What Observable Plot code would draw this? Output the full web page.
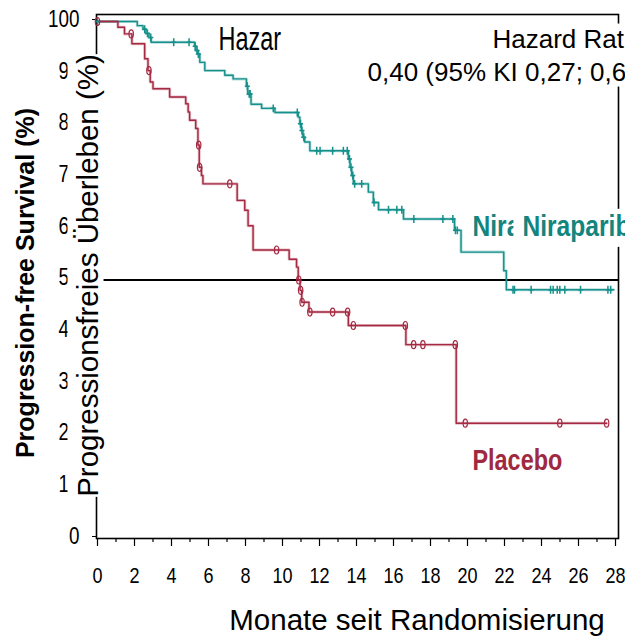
<!DOCTYPE html>
<html><head><meta charset="utf-8">
<script src="https://cdn.jsdelivr.net/npm/d3@7"></script>
<script src="https://cdn.jsdelivr.net/npm/@observablehq/plot@0.6"></script>
<style>
html,body{margin:0;padding:0;background:#fff;overflow:hidden;}
#chart{width:625px;height:638px;}
</style></head><body><div id="chart"></div>
<script>
// ---- data ----
const niraTimes = [0, 2.15, 2.46, 2.62, 2.78, 2.90, 5.25, 5.33, 5.43, 5.53, 5.80, 6.88, 7.33, 8.05, 8.12, 8.30, 8.87, 9.59, 10.85, 10.94, 11.02, 11.10, 11.20, 11.48, 13.56, 13.65, 13.74, 13.83, 14.64, 14.91, 15.19, 16.54, 19.30, 19.65, 21.96, 22.10, 27.90];
const niraSurv  = [100, 99.2, 98.5, 97.7, 96.9, 96.0, 95.2, 94.4, 93.7, 92.1, 90.5, 89.6, 88.9, 87.5, 86.0, 84.0, 83.2, 82.4, 81.5, 80.2, 78.9, 77.6, 76.7, 75.0, 73.4, 71.8, 70.2, 68.6, 67.0, 65.0, 63.6, 61.8, 59.6, 55.4, 51.8, 48.1, 48.1];
const niraCensored = [0, 2.55, 2.70, 2.88, 4.12, 4.95, 5.28, 5.38, 5.45, 8.10, 8.20, 8.25, 9.50, 10.80, 10.97, 11.05, 11.15, 11.85, 12.03, 12.71, 13.29, 13.50, 13.62, 13.70, 13.80, 13.90, 14.28, 14.95, 15.73, 16.18, 16.45, 17.10, 18.67, 19.21, 19.35, 19.45, 22.46, 22.54, 23.44, 24.49, 24.63, 24.85, 24.99, 25.26, 26.11, 27.59, 27.74];

const placTimes = [0, 1.10, 1.46, 1.86, 2.55, 2.73, 2.85, 3.00, 3.90, 4.77, 4.90, 4.98, 5.31, 5.43, 5.50, 5.62, 5.70, 7.55, 7.96, 8.14, 8.41, 10.36, 10.76, 10.85, 10.95, 11.04, 11.43, 13.56, 16.67, 19.39, 27.52];
const placSurv  = [100, 98.9, 97.6, 95.7, 92.8, 90.5, 88.3, 87.0, 85.4, 84.1, 82.5, 80.9, 79.3, 76.1, 71.8, 70.2, 68.6, 65.4, 63.5, 60.5, 55.8, 54.0, 52.5, 50.0, 48.0, 45.7, 43.8, 41.2, 37.5, 22.3, 22.3];
const placCensored = [0, 1.82, 2.78, 5.47, 5.52, 7.15, 9.68, 10.88, 10.98, 11.06, 11.48, 12.71, 13.52, 13.83, 16.64, 17.09, 17.59, 19.34, 19.88, 24.99, 27.52];

const xTicks = [0, 2, 4, 6, 8, 10, 12, 14, 16, 18, 20, 22, 24, 26, 28];
const xMinorTicks = [1, 3, 5, 7, 9, 11, 13, 15, 17, 19, 21, 23, 25, 27];
const yTicks = [0, 10, 20, 30, 40, 50, 60, 70, 80, 90, 100];
const medianLine = [50];

const armNames = ["Niraparib", "Placebo"];
const yTitleDe = "Progressionsfreies Überleben (%)";
const yTitleEn = "Progression-free Survival (%)";
const xTitle = "Monate seit Randomisierung";
const hrTitle = "Hazard Ratio";
const hrValue = "0,40 (95% KI 0,27; 0,62)";
const hrFragment = "Hazar";
const niraFragment = "Nira";

// ---- helpers ----
const teal = "#15908a", tealText = "#13857f";
const red = "#a52942", redText = "#a0283f";
function survAt(times, surv, t) { let s = surv[0]; for (let i = 0; i < times.length; i++) { if (times[i] <= t) s = surv[i]; else break; } return s; }
const niraLine = niraTimes.map((t, i) => ({t, s: niraSurv[i]}));
const placLine = placTimes.map((t, i) => ({t, s: placSurv[i]}));
const niraCens = niraCensored.map(t => ({t, s: survAt(niraTimes, niraSurv, t)}));
const placCens = placCensored.map(t => ({t, s: survAt(placTimes, placSurv, t)}));

const censorPlus = {draw(ctx, size) { const r = Math.sqrt(size / Math.PI);
  ctx.moveTo(0, -r * 1.1); ctx.lineTo(0, r * 1.1); ctx.moveTo(-r * 0.7, 0); ctx.lineTo(r * 0.7, 0); }};
const censorOval = {draw(ctx, size) { const r = Math.sqrt(size / Math.PI); const rx = r * 0.55, ry = r, k = 0.5523;
  ctx.moveTo(0, -ry); ctx.bezierCurveTo(k * rx, -ry, rx, -k * ry, rx, 0); ctx.bezierCurveTo(rx, k * ry, k * rx, ry, 0, ry);
  ctx.bezierCurveTo(-k * rx, ry, -rx, k * ry, -rx, 0); ctx.bezierCurveTo(-rx, -k * ry, -k * rx, -ry, 0, -ry); ctx.closePath(); }};

const arial = '"Liberation Sans", Arial, sans-serif';

const chart = Plot.plot({
  width: 625, height: 638,
  marginLeft: 96, marginRight: 7, marginTop: 14, marginBottom: 100,
  style: {fontFamily: arial, fontSize: "22px", color: "#000", background: "#fff"},
  x: {domain: [0, 28], range: [97, 615]},
  y: {domain: [0, 100], range: [538, 21]},
  marks: [
    Plot.frame({stroke: "#000", strokeWidth: 1.6}),
    Plot.ruleY(medianLine, {stroke: "#000", strokeWidth: 2}),
    Plot.axisX({ticks: xMinorTicks, tickSize: 4, tickFormat: () => "", label: null, strokeWidth: 1.2}),
    Plot.axisX({ticks: xTicks, tickSize: 8, tickPadding: 21, fontSize: 22, label: null, strokeWidth: 1.2}),
    Plot.axisY({ticks: yTicks, tickSize: 4, tickPadding: 13, fontSize: 23, dy: -2, label: null}),
    Plot.line(niraLine, {x: "t", y: "s", curve: "step-after", stroke: teal, strokeWidth: 3, strokeOpacity: 0.3}),
    Plot.line(niraLine, {x: "t", y: "s", curve: "step-after", stroke: teal, strokeWidth: 1.4}),
    Plot.line(placLine, {x: "t", y: "s", curve: "step-after", stroke: red, strokeWidth: 3, strokeOpacity: 0.3}),
    Plot.line(placLine, {x: "t", y: "s", curve: "step-after", stroke: red, strokeWidth: 1.4}),
    Plot.dot(niraCens, {x: "t", y: "s", symbol: censorPlus, r: 3.6, stroke: teal, strokeWidth: 1.5, fill: "none"}),
    Plot.dot(placCens, {x: "t", y: "s", symbol: censorOval, r: 4, stroke: red, strokeWidth: 1.2, fill: "none"}),
    Plot.text([yTitleEn], {text: d => d, frameAnchor: "left", lineAnchor: "middle", textAnchor: "middle", rotate: -90, dx: -71, dy: 6.5, fontFamily: arial, fontWeight: "bold", fontSize: 25, fill: "#000"}),
    Plot.text([yTitleDe], {text: d => d, frameAnchor: "left", lineAnchor: "middle", textAnchor: "middle", rotate: -90, dx: -8.4, dy: -1, fontFamily: arial, fontSize: 29.5, fill: "#000"}),
    Plot.text([hrFragment], {text: d => d, frameAnchor: "top-left", lineAnchor: "middle", textAnchor: "start", dx: 122, dy: 25, fontFamily: arial, fontSize: 34, fill: "#000"}),
    Plot.text([hrValue], {text: d => d, frameAnchor: "top-right", lineAnchor: "middle", textAnchor: "start", dx: -251, dy: 57.7, fontFamily: arial, fontSize: 26, fill: "#000"}),
    Plot.text([hrTitle], {text: d => d, frameAnchor: "top-right", lineAnchor: "middle", textAnchor: "start", dx: -126, dy: 24.7, fontFamily: arial, fontSize: 26, fill: "#000"}),
    Plot.text([niraFragment], {text: d => d, x: 20.27, y: 60.4, lineAnchor: "middle", textAnchor: "start", fontFamily: arial, fontWeight: "bold", fontSize: 30, fill: tealText}),
    Plot.text([armNames[0]], {text: d => d, x: 22.97, y: 60.4, lineAnchor: "middle", textAnchor: "start", fontFamily: arial, fontWeight: "bold", fontSize: 30, fill: tealText}),
    Plot.text([armNames[1]], {text: d => d, x: 20.27, y: 15.1, lineAnchor: "middle", textAnchor: "start", fontFamily: arial, fontWeight: "bold", fontSize: 30, fill: redText}),
    Plot.text([xTitle], {text: d => d, frameAnchor: "bottom", lineAnchor: "middle", textAnchor: "middle", dx: 59.5, dy: 81.6, fontFamily: arial, fontSize: 29.5, fill: "#000"})
  ]
});
document.getElementById("chart").appendChild(chart);

// condensed look (like a narrow typeface): compress glyphs to a fraction of their natural advance
function condense(nodes, sx) {
  nodes.forEach(node => {
    const w = node.getComputedTextLength();
    if (w > 0) { node.setAttribute("textLength", (w * sx).toFixed(2)); node.setAttribute("lengthAdjust", "spacingAndGlyphs"); }
  });
}
const allTexts = Array.from(chart.querySelectorAll("text"));
const byContent = c => allTexts.filter(n => n.textContent === c);
condense(Array.from(chart.querySelectorAll('g[aria-label$="tick label"] text')), 0.82);
condense(byContent(hrFragment), 0.69);
condense(byContent(niraFragment), 0.82);
condense(byContent(armNames[0]), 0.82);
condense(byContent(armNames[1]), 0.78);

// white backgrounds behind some labels (they hide what lies under them, as in the reference)
function addBg(content, pad) {
  byContent(content).forEach(node => {
    const b = node.getBBox();
    d3.select(node.parentNode).insert("rect", () => node)
      .attr("x", b.x - pad[3]).attr("y", b.y - pad[0])
      .attr("width", b.width + pad[1] + pad[3]).attr("height", b.height + pad[0] + pad[2])
      .attr("fill", "#fff").attr("stroke", "none")
      .attr("transform", node.getAttribute("transform"));
  });
}
addBg(yTitleDe, [3, 0, 0, 0]);
addBg(hrValue, [0, 0, 0, 2]);
addBg(hrTitle, [0, 0, 4, 2]);
addBg(armNames[0], [0, 0, 5, 9]);
</script></body></html>
